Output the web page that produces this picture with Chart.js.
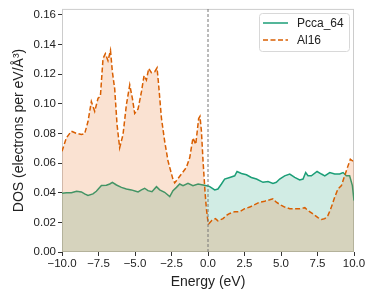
<!DOCTYPE html>
<html><head><meta charset="utf-8">
<script src="https://cdn.jsdelivr.net/npm/chart.js@4/dist/chart.umd.min.js"></script>
<style>html,body{margin:0;padding:0;background:#fff}#wrap{width:374px;height:294px}</style>
</head><body><div id="wrap"><canvas id="c" width="374" height="294"></canvas></div>
<script>
const seriesNames = ["Pcca_64", "Al16"];
const xTicks = [-10, -7.5, -5, -2.5, 0, 2.5, 5, 7.5, 10];
const yTicks = [0, 0.02, 0.04, 0.06, 0.08, 0.10, 0.12, 0.14, 0.16];
const fermiLevel = 0;

const pccaEnergy = [-10,-9.7,-9.36,-9.0,-8.67,-8.45,-8.22,-7.88,-7.65,-7.3,-6.96,-6.73,-6.55,-6.27,-5.93,-5.59,-5.25,-4.95,-4.79,-4.56,-4.34,-4.11,-3.84,-3.53,-3.31,-2.97,-2.62,-2.4,-2.16,-1.94,-1.71,-1.37,-1.03,-0.68,-0.34,0.0,0.12,0.46,0.68,0.92,1.14,1.49,1.83,1.99,2.29,2.63,2.97,3.32,3.77,4.11,4.45,4.68,4.91,5.25,5.6,5.94,6.28,6.51,6.69,6.85,7.08,7.47,7.77,8.0,8.34,8.68,9.02,9.25,9.48,9.7,9.89,10.0];
const pccaDos = [0.0396,0.0399,0.040,0.041,0.0405,0.0392,0.0381,0.0392,0.041,0.0448,0.045,0.0459,0.047,0.0452,0.0436,0.0425,0.0419,0.041,0.0405,0.0419,0.043,0.0414,0.0407,0.0441,0.0419,0.0403,0.0374,0.0414,0.0436,0.0459,0.0448,0.0463,0.0448,0.0459,0.0452,0.0445,0.0441,0.0419,0.0425,0.0459,0.0492,0.0503,0.0514,0.0543,0.053,0.0521,0.0503,0.0492,0.047,0.0476,0.0463,0.047,0.0492,0.0514,0.0526,0.0503,0.0486,0.0492,0.0536,0.0514,0.0514,0.0543,0.0526,0.0514,0.0536,0.0526,0.0526,0.0536,0.0514,0.0514,0.0448,0.0347];

const al16Energy = [-10,-9.7,-9.36,-9.0,-8.67,-8.45,-8.22,-7.99,-7.76,-7.53,-7.37,-7.19,-7.03,-6.85,-6.68,-6.55,-6.39,-6.23,-6.05,-5.82,-5.59,-5.36,-5.18,-5.02,-4.79,-4.56,-4.38,-4.22,-4.06,-3.88,-3.65,-3.49,-3.38,-3.19,-2.97,-2.74,-2.4,-2.28,-1.82,-1.48,-1.25,-1.03,-0.84,-0.64,-0.55,-0.45,-0.34,-0.2,-0.11,0.0,0.05,0.27,0.51,0.68,1.03,1.26,1.49,1.83,2.17,2.51,2.86,3.2,3.54,3.88,4.23,4.45,4.68,5.03,5.25,5.6,5.94,6.28,6.63,6.85,7.19,7.53,7.77,8.0,8.22,8.45,8.68,8.9,9.14,9.36,9.59,9.75,9.89,10.0];
const al16Dos = [0.068,0.077,0.0815,0.080,0.0793,0.0797,0.088,0.1015,0.0949,0.1037,0.105,0.1305,0.1338,0.129,0.136,0.1216,0.110,0.086,0.0703,0.0793,0.0993,0.1127,0.1037,0.0935,0.0965,0.108,0.119,0.116,0.1238,0.121,0.1216,0.1242,0.1127,0.0904,0.0748,0.0615,0.049,0.0466,0.0526,0.057,0.0637,0.077,0.0726,0.090,0.0915,0.0815,0.0615,0.040,0.0292,0.0202,0.019,0.0214,0.0225,0.021,0.0225,0.0247,0.026,0.0272,0.0272,0.0292,0.0303,0.032,0.0336,0.0343,0.0352,0.0359,0.0336,0.0314,0.0303,0.0292,0.0292,0.0292,0.0299,0.028,0.0258,0.0232,0.022,0.0225,0.0247,0.0303,0.037,0.0425,0.0448,0.0514,0.0581,0.0626,0.0615,0.0615];

const GREEN = '#1b9e77', ORANGE = '#d95f02';
const FONT = '"Liberation Sans", Arial, sans-serif';
const toPts = (xs, ys) => xs.map((x, i) => ({x, y: ys[i]}));
const fmtMinus = s => s.replace('-', '\u2212');

const framePlugin = {
  id: 'frame',
  beforeDatasetsDraw(chart) {
    const {ctx, chartArea: a} = chart;
    ctx.save();
    ctx.strokeStyle = '#cccccc'; ctx.lineWidth = 1;
    ctx.strokeRect(a.left + 0.5, a.top + 0.5, a.right - a.left - 1, a.bottom - a.top - 1);
    ctx.restore();
  },
  afterDatasetsDraw(chart) {
    const {ctx} = chart;
    const bx = 259, by = 13, bw = 90, bh = 38, r = 3;
    ctx.save();
    ctx.fillStyle = 'rgba(255,255,255,0.85)';
    ctx.strokeStyle = '#d8d8d8'; ctx.lineWidth = 1;
    ctx.beginPath();
    ctx.roundRect(bx + 0.5, by + 0.5, bw, bh, r);
    ctx.fill(); ctx.stroke();
    const items = [{c: GREEN, d: []}, {c: ORANGE, d: [5, 2.5]}];
    ctx.font = '12px ' + FONT; ctx.textBaseline = 'middle'; ctx.fillStyle = '#222';
    items.forEach((it, i) => {
      const y = by + 10 + i * 17;
      ctx.strokeStyle = it.c; ctx.lineWidth = 1.5; ctx.setLineDash(it.d);
      ctx.beginPath(); ctx.moveTo(bx + 4, y); ctx.lineTo(bx + 29, y); ctx.stroke();
      ctx.setLineDash([]);
      ctx.fillText(seriesNames[i], bx + 38, y + 0.5);
    });
    ctx.restore();
  }
};

new Chart(document.getElementById('c'), {
  type: 'line',
  data: {
    datasets: [
      {label: seriesNames[0], data: toPts(pccaEnergy, pccaDos), borderColor: GREEN, backgroundColor: 'rgba(27,158,119,0.2)', fill: 'origin', borderWidth: 1.5, pointRadius: 0, tension: 0, order: 2},
      {label: seriesNames[1], data: toPts(al16Energy, al16Dos), borderColor: ORANGE, backgroundColor: 'rgba(230,110,30,0.2)', fill: 'origin', borderWidth: 1.5, borderDash: [5, 2.5], pointRadius: 0, tension: 0, order: 1},
      {label: 'fermi', data: [{x: fermiLevel, y: 0}, {x: fermiLevel, y: 0.164}], borderColor: '#777', borderWidth: 1, borderDash: [3, 2], pointRadius: 0, fill: false, order: 0}
    ]
  },
  options: {
    responsive: false, animation: false,
    layout: {padding: {left: 0, right: 20, top: 7, bottom: 0}},
    plugins: {legend: {display: false}, tooltip: {enabled: false}},
    scales: {
      x: {
        type: 'linear', min: -10, max: 10,
        afterBuildTicks: s => { s.ticks = xTicks.map(v => ({value: v})); },
        afterFit: s => { s.height = 42; },
        grid: {drawOnChartArea: false, tickLength: 4, color: '#333', drawTicks: true},
        border: {display: false},
        ticks: {color: '#222', font: {family: FONT, size: 11.5}, padding: 1, maxRotation: 0,
                callback: v => fmtMinus(Number(v).toFixed(1))},
        title: {display: true, text: 'Energy (eV)', color: '#222', font: {family: FONT, size: 14}, padding: {top: 0, bottom: 3}}
      },
      y: {
        min: 0, max: 0.164,
        afterBuildTicks: s => { s.ticks = yTicks.map(v => ({value: v})); },
        afterFit: s => { s.width = 62; },
        grid: {drawOnChartArea: false, tickLength: 4, color: '#333'},
        border: {display: false},
        ticks: {color: '#222', font: {family: FONT, size: 11.5}, padding: 2,
                callback: v => Number(v).toFixed(2)},
        title: {display: true, text: 'DOS (electrons per eV/Å³)', color: '#222', font: {family: FONT, size: 14}, padding: {top: 11, bottom: 0}}
      }
    }
  },
  plugins: [framePlugin]
});
</script></body></html>
